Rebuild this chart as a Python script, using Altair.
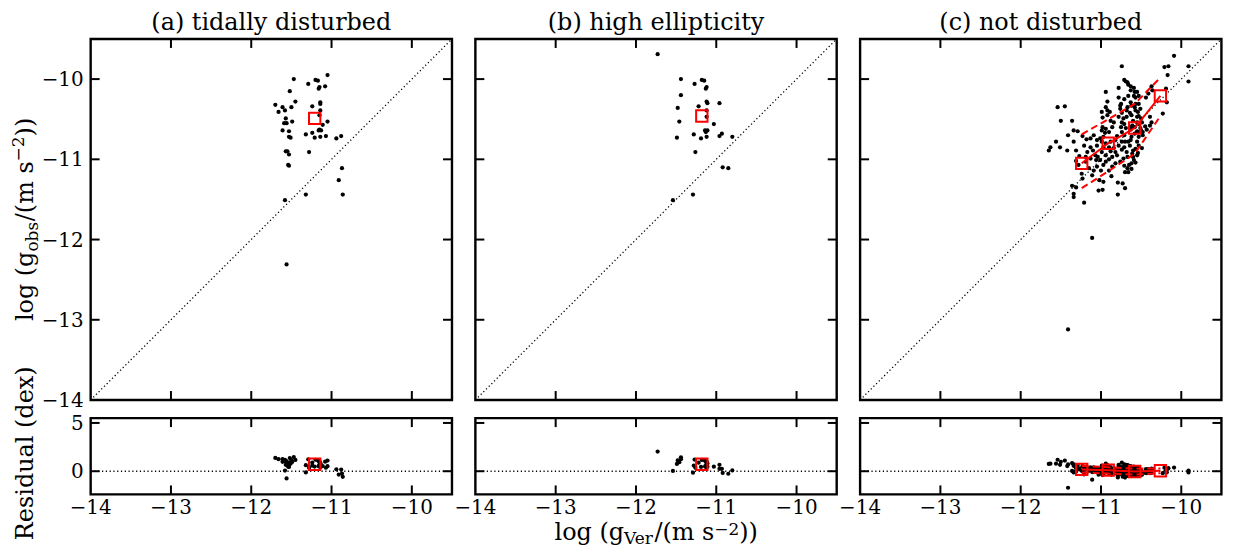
import altair as alt
import pandas as pd

FONT = "DejaVu Serif"
W, H, HR = 362.8, 362.5, 76.6
XDOM = [-14, -9.5]
YDOM = [-14, -9.5]
RDOM = [-2.4, 5.5]
TICK = 9

# ---------------- data (log g values) ----------------
a_gver = [-11.47, -11.05, -11.20, -11.17, -11.29, -11.15, -11.08, -11.16, -11.52, -11.45,
          -11.14, -11.14, -11.70, -11.61, -11.58, -11.66, -11.50, -11.24, -11.14, -11.15,
          -11.57, -11.59, -11.56, -11.49, -11.11, -11.05, -11.15, -11.16, -11.13, -11.61,
          -11.53, -11.32, -11.24, -11.53, -11.51, -11.21, -11.14, -11.07, -10.94, -10.88,
          -11.57, -11.55, -11.53, -11.28, -11.54, -11.53, -10.87, -10.91, -11.32, -10.86,
          -11.58, -11.56]
a_gobs = [-10.00, -9.95, -10.01, -10.02, -10.06, -10.10, -10.09, -10.12, -10.15, -10.28,
          -10.29, -10.31, -10.32, -10.35, -10.39, -10.41, -10.35, -10.34, -10.39, -10.45,
          -10.49, -10.55, -10.55, -10.53, -10.57, -10.53, -10.63, -10.64, -10.64, -10.64,
          -10.65, -10.69, -10.67, -10.72, -10.73, -10.73, -10.72, -10.71, -10.74, -10.71,
          -10.90, -10.90, -10.94, -10.91, -11.07, -11.08, -11.11, -11.26, -11.44, -11.44,
          -11.51, -12.31]

b_gver = [-11.73, -11.44, -11.18, -11.15, -11.27, -11.12, -11.13, -11.44, -11.12, -11.11,
          -10.96, -11.22, -11.48, -11.12, -11.46, -11.12, -11.03, -11.14, -11.11, -11.13,
          -11.28, -11.19, -11.12, -10.93, -10.96, -11.49, -10.80, -11.26, -10.92, -10.85,
          -11.29, -11.54]
b_gobs = [-9.69, -10.00, -10.01, -10.02, -10.06, -10.10, -10.12, -10.20, -10.28, -10.30,
          -10.30, -10.34, -10.36, -10.39, -10.53, -10.47, -10.56, -10.64, -10.64, -10.66,
          -10.69, -10.74, -10.72, -10.68, -10.71, -10.73, -10.72, -10.91, -11.10, -11.11,
          -11.44, -11.51]

c_gver = [-10.09, -10.74, -10.21, -10.16, -9.91, -10.17, -10.71, -10.69, -10.67, -9.91,
          -10.66, -10.63, -10.59, -10.37, -10.78, -10.94, -10.63, -10.58, -10.55, -10.41,
          -10.36, -10.19, -10.78, -10.59, -10.57, -10.53, -10.44, -10.92, -10.75, -10.76,
          -10.63, -10.57, -10.53, -10.18, -11.54, -11.45, -10.94, -10.67, -10.58, -10.99,
          -10.92, -10.74, -10.68, -10.64, -10.57, -10.54, -10.51, -10.23, -10.98, -10.92,
          -10.62, -10.53, -10.50, -10.39, -11.50, -11.36, -10.88, -10.74, -10.71, -10.60,
          -10.55, -10.49, -10.37, -10.98, -10.94, -10.86, -10.75, -10.69, -10.63, -10.58,
          -10.51, -10.45, -10.39, -11.34, -11.29, -10.99, -10.95, -10.90, -10.74, -10.55,
          -10.48, -10.43, -11.41, -11.23, -11.09, -10.97, -10.80, -10.71, -10.62, -10.53,
          -10.48, -11.56, -11.34, -11.18, -11.13, -11.05, -10.99, -10.94, -10.88, -10.82,
          -10.74, -10.66, -10.55, -11.63, -11.51, -11.21, -11.05, -10.97, -10.84, -10.78,
          -10.71, -10.64, -10.53, -10.49, -11.65, -11.42, -11.31, -11.10, -10.99, -10.88,
          -10.74, -10.68, -10.60, -10.54, -11.27, -11.07, -11.04, -10.86, -10.80, -10.60,
          -10.55, -11.31, -11.19, -11.01, -10.94, -10.90, -10.59, -10.57, -11.28, -11.15,
          -10.97, -11.05, -10.71, -10.65, -10.62, -10.67, -11.24, -11.09, -11.00, -10.70,
          -10.66, -10.62, -11.23, -11.11, -10.87, -11.02, -10.97, -10.79, -10.73, -11.36,
          -11.31, -11.03, -10.98, -10.70, -11.34, -10.79, -11.34, -11.21, -11.11, -11.41,
          -10.62, -10.61, -10.55, -10.53, -10.50, -10.58, -10.63, -10.57, -10.61, -10.67,
          -10.72, -10.76, -10.82, -10.86, -10.90, -11.13, -11.17, -11.13, -11.19, -10.90,
          -10.82, -10.68, -10.72, -10.78, -10.84, -10.66, -10.71, -10.76, -10.89, -11.01,
          -11.06, -10.94, -10.70, -10.62, -10.53]
c_gobs = [-9.71, -9.84, -9.85, -9.84, -9.84, -9.95, -10.01, -10.03, -10.04, -10.03,
          -10.07, -10.09, -10.11, -10.09, -10.11, -10.16, -10.14, -10.16, -10.16, -10.18,
          -10.14, -10.12, -10.23, -10.21, -10.23, -10.21, -10.23, -10.28, -10.31, -10.33,
          -10.29, -10.31, -10.31, -10.29, -10.35, -10.34, -10.35, -10.35, -10.35, -10.41,
          -10.39, -10.42, -10.39, -10.42, -10.39, -10.41, -10.37, -10.43, -10.48, -10.45,
          -10.45, -10.46, -10.49, -10.47, -10.52, -10.52, -10.52, -10.54, -10.56, -10.52,
          -10.54, -10.54, -10.54, -10.60, -10.62, -10.60, -10.60, -10.61, -10.63, -10.60,
          -10.61, -10.59, -10.58, -10.64, -10.65, -10.64, -10.67, -10.66, -10.66, -10.65,
          -10.66, -10.63, -10.70, -10.71, -10.70, -10.72, -10.71, -10.70, -10.72, -10.72,
          -10.70, -10.78, -10.78, -10.75, -10.74, -10.76, -10.78, -10.80, -10.78, -10.76,
          -10.78, -10.78, -10.78, -10.85, -10.85, -10.83, -10.83, -10.85, -10.86, -10.83,
          -10.85, -10.83, -10.83, -10.86, -10.89, -10.89, -10.89, -10.89, -10.91, -10.90,
          -10.88, -10.91, -10.89, -10.92, -10.96, -10.95, -10.97, -10.97, -10.95, -10.97,
          -10.95, -11.02, -11.03, -11.01, -11.03, -11.00, -11.01, -11.04, -11.07, -11.11,
          -11.07, -11.09, -11.08, -11.07, -11.05, -11.11, -11.18, -11.14, -11.14, -11.16,
          -11.16, -11.12, -11.24, -11.20, -11.21, -11.26, -11.28, -11.29, -11.30, -11.33,
          -11.35, -11.39, -11.38, -11.36, -11.43, -11.44, -11.47, -11.54, -11.98, -13.12,
          -10.33, -10.58, -10.47, -10.56, -10.64, -10.68, -10.76, -10.87, -10.93, -10.97,
          -10.99, -11.03, -11.05, -11.09, -11.14, -10.99, -10.91, -10.85, -10.97, -10.85,
          -10.91, -10.47, -10.49, -10.47, -10.54, -10.21, -10.25, -10.37, -10.41, -10.74,
          -11.01, -10.95, -10.78, -10.60, -10.66]

# binned medians (red squares) and scatter band (dashed)
a_bin_gver = [-11.21]
a_bin_gobs = [-10.49]
b_bin_gver = [-11.18]
b_bin_gobs = [-10.46]
c_bin_gver = [-11.24, -10.91, -10.58, -10.26]
c_bin_gobs = [-11.05, -10.80, -10.61, -10.21]
c_up_gobs = [-10.69, -10.50, -10.31, -9.98]
c_lo_gobs = [-11.36, -11.15, -10.93, -10.46]

titles = ["(a) tidally disturbed", "(b) high ellipticity", "(c) not disturbed"]
x_ticks = [-13, -12, -11, -10]
x_label_vals = [-14, -13, -12, -11, -10]
x_label_txt = ["\u221214", "\u221213", "\u221212", "\u221211", "\u221210"]
y_ticks = [-13, -12, -11, -10]
y_label_vals = [-14, -13, -12, -11, -10]
y_label_txt = ["\u221214", "\u221213", "\u221212", "\u221211", "\u221210"]
r_ticks = [0, 5]
r_label_txt = ["0", "5"]

xs = alt.Scale(domain=XDOM, nice=False, zero=False)
ys = alt.Scale(domain=YDOM, nice=False, zero=False)
rs = alt.Scale(domain=RDOM, nice=False, zero=False)

XE = dict(scale=xs, axis=None)


def tick_layers(yscale, yvals, height):
    one = pd.DataFrame({"t": x_ticks})
    yt = pd.DataFrame({"t": yvals})
    rule = dict(color="black", strokeWidth=2)
    return [
        alt.Chart(one).mark_rule(**rule).encode(
            x=alt.X("t:Q", **XE), y=alt.value(0), y2=alt.value(TICK)),
        alt.Chart(one).mark_rule(**rule).encode(
            x=alt.X("t:Q", **XE), y=alt.value(height - TICK), y2=alt.value(height)),
        alt.Chart(yt).mark_rule(**rule).encode(
            y=alt.Y("t:Q", scale=yscale, axis=None), x=alt.value(0), x2=alt.value(TICK)),
        alt.Chart(yt).mark_rule(**rule).encode(
            y=alt.Y("t:Q", scale=yscale, axis=None), x=alt.value(W - TICK), x2=alt.value(W)),
    ]


def ylabels(vals, txt, yscale):
    return alt.Chart(pd.DataFrame({"t": vals, "lab": txt})).mark_text(
        font=FONT, fontSize=20, align="right", baseline="middle", color="black", dy=1).encode(
        y=alt.Y("t:Q", scale=yscale, axis=None), x=alt.value(-7), text="lab:N")


def xlabels(height):
    return alt.Chart(pd.DataFrame({"t": x_label_vals, "lab": x_label_txt})).mark_text(
        font=FONT, fontSize=20, align="center", baseline="top", color="black").encode(
        x=alt.X("t:Q", **XE), y=alt.value(height + 4), text="lab:N")


def piece(txt, x, y, size, angle=0, align="left", dy=0):
    return alt.Chart(pd.DataFrame({"k": [0]})).mark_text(
        text=txt, font=FONT, fontSize=size, angle=angle, align=align,
        baseline="alphabetic", dy=dy, color="black").encode(
        x=alt.value(x), y=alt.value(y))


def main_panel(i, gver, gobs, bver, bobs, up=None, lo=None):
    df = pd.DataFrame({"gver": gver, "gobs": gobs})
    YE = dict(scale=ys, axis=None)
    diag = alt.Chart(pd.DataFrame({"gver": XDOM, "gobs": YDOM})).mark_line(
        color="black", strokeDash=[1.2, 2.6], strokeWidth=1.3).encode(
        x=alt.X("gver:Q", **XE), y=alt.Y("gobs:Q", **YE))
    pts = alt.Chart(df).mark_circle(size=18, color="black", opacity=1).encode(
        x=alt.X("gver:Q", **XE), y=alt.Y("gobs:Q", **YE))
    layers = [diag, pts]
    bdf = pd.DataFrame({"gver": bver, "gobs": bobs})
    if up is not None:
        for band in (up, lo):
            layers.append(alt.Chart(pd.DataFrame({"gver": bver, "gobs": band})).mark_line(
                color="red", strokeDash=[7, 4], strokeWidth=2).encode(
                x=alt.X("gver:Q", **XE), y=alt.Y("gobs:Q", **YE)))
        layers.append(alt.Chart(bdf).mark_line(color="red", strokeWidth=2).encode(
            x=alt.X("gver:Q", **XE), y=alt.Y("gobs:Q", **YE)))
    layers.append(alt.Chart(bdf).mark_point(
        shape="square", filled=False, color="red", size=130, strokeWidth=2, opacity=1).encode(
        x=alt.X("gver:Q", **XE), y=alt.Y("gobs:Q", **YE)))
    layers += tick_layers(ys, y_ticks, H)
    layers.append(piece(titles[i], W / 2, -9.5, 24, align="center"))
    if i == 0:
        layers.append(ylabels(y_label_vals, y_label_txt, ys))
        bx = -58
        layers += [
            piece("log (g", bx, 283.3, 24, 270),
            piece("obs", bx, 213.5, 17, 270, dy=5),
            piece("/(m s", bx, 183.0, 24, 270),
            piece("\u22122", bx, 122.9, 17, 270, dy=-9),
            piece("))", bx, 97.8, 24, 270),
        ]
    return alt.layer(*layers).properties(width=W, height=H)


def res_panel(i, gver, gobs, bver, bobs, up=None, lo=None):
    df = pd.DataFrame({"gver": gver, "gobs": gobs})
    calc = "datum.gobs - datum.gver"
    RE = dict(scale=rs, axis=None)
    zero = alt.Chart(pd.DataFrame({"gver": XDOM, "res": [0, 0]})).mark_line(
        color="black", strokeDash=[1.2, 2.6], strokeWidth=1.3).encode(
        x=alt.X("gver:Q", **XE), y=alt.Y("res:Q", **RE))
    pts = alt.Chart(df).transform_calculate(res=calc).mark_circle(
        size=18, color="black", opacity=1).encode(
        x=alt.X("gver:Q", **XE), y=alt.Y("res:Q", **RE))
    layers = [zero, pts]
    bdf = pd.DataFrame({"gver": bver, "gobs": bobs})
    if up is not None:
        for band in (up, lo):
            layers.append(alt.Chart(pd.DataFrame({"gver": bver, "gobs": band})).transform_calculate(
                res=calc).mark_line(color="red", strokeDash=[7, 4], strokeWidth=2).encode(
                x=alt.X("gver:Q", **XE), y=alt.Y("res:Q", **RE)))
        layers.append(alt.Chart(bdf).transform_calculate(res=calc).mark_line(
            color="red", strokeWidth=2).encode(
            x=alt.X("gver:Q", **XE), y=alt.Y("res:Q", **RE)))
    layers.append(alt.Chart(bdf).transform_calculate(res=calc).mark_point(
        shape="square", filled=False, color="red", size=130, strokeWidth=2, opacity=1).encode(
        x=alt.X("gver:Q", **XE), y=alt.Y("res:Q", **RE)))
    layers += tick_layers(rs, r_ticks, HR)
    layers.append(xlabels(HR))
    if i == 0:
        layers.append(ylabels(r_ticks, r_label_txt, rs))
        layers.append(piece("Residual (dex)", -58, 35.3, 24, 270, align="center"))
    if i == 1:
        by = HR + 46.2
        layers += [
            piece("log (g", 79.5, by, 24),
            piece("Ver", 149.3, by, 17, dy=4),
            piece("/(m s", 179.8, by, 24),
            piece("\u22122", 239.9, by, 17, dy=-5),
            piece("))", 265.0, by, 24),
        ]
    return alt.layer(*layers).properties(width=W, height=HR)


sets = [
    (a_gver, a_gobs, a_bin_gver, a_bin_gobs, None, None),
    (b_gver, b_gobs, b_bin_gver, b_bin_gobs, None, None),
    (c_gver, c_gobs, c_bin_gver, c_bin_gobs, c_up_gobs, c_lo_gobs),
]

mains = [main_panel(i, *s) for i, s in enumerate(sets)]
ress = [res_panel(i, *s) for i, s in enumerate(sets)]

chart = alt.concat(*mains, *ress, columns=3, spacing={"row": 17.7, "column": 23.3},
                   bounds="flush").properties(
    padding={"left": 0, "top": 0, "right": 0, "bottom": -2.5},
    background="white",
).configure_view(stroke="black", strokeWidth=2.4)

chart.save("out.html", embed_options={"renderer": "svg", "actions": False})
